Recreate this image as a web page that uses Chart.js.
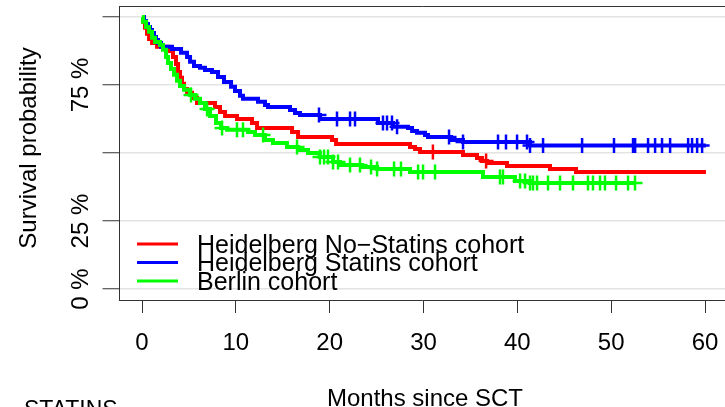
<!DOCTYPE html>
<html>
<head>
<meta charset="utf-8">
<title>Survival after SCT</title>
<script src="https://cdn.jsdelivr.net/npm/chart.js@4.4.0/dist/chart.umd.min.js"></script>
<style>
  html, body { margin: 0; padding: 0; background: #fff; overflow: hidden; }
  #wrap { width: 725px; height: 407px; }
</style>
</head>
<body>
<div id="wrap"><canvas id="km" width="725" height="407"></canvas></div>
<script>
// Kaplan-Meier curves: event times (months) and survival just after each event
const noStatinTimes = [0, 0.11, 0.32, 0.53, 0.75, 1.07, 1.6, 2.77, 3.3, 3.62, 3.84, 4.05, 4.26, 4.48, 4.8, 5.33, 5.86,
  7.78, 8.31, 8.85, 10.12, 11.72, 12.26, 15.99, 16.63, 20.25, 20.68, 28.56, 29.1, 29.63, 34.21, 35.7, 36.24,
  36.77, 38.9, 43.48, 46.25, 60.1];
const noStatinSurv = [1, 0.982, 0.96, 0.938, 0.919, 0.904, 0.89, 0.875, 0.853, 0.827, 0.798, 0.776, 0.754, 0.735, 0.721,
  0.702, 0.684, 0.669, 0.651, 0.636, 0.625, 0.61, 0.592, 0.577, 0.559, 0.548, 0.533, 0.522, 0.515, 0.504, 0.493,
  0.482, 0.471, 0.463, 0.452, 0.441, 0.43, 0.43];
const noStatinCensored = [31.0, 36.67];

const statinTimes = [0, 0.21, 0.43, 0.64, 0.85, 1.07, 1.28, 1.49, 1.71, 2.03, 3.2, 4.16, 4.8, 5.12, 5.54, 6.18, 6.71,
  7.46, 8.1, 8.74, 9.49, 9.91, 10.44, 10.76, 12.36, 13.11, 13.43, 15.77, 16.31, 16.84, 18.97, 25.15, 26.75,
  28.35, 28.78, 29.31, 30.16, 30.48, 32.93, 34.21, 41.35, 60.1];
const statinSurv = [1, 0.985, 0.974, 0.963, 0.952, 0.941, 0.926, 0.915, 0.904, 0.89, 0.882, 0.868, 0.853, 0.835, 0.82,
  0.813, 0.805, 0.798, 0.779, 0.761, 0.743, 0.728, 0.71, 0.699, 0.688, 0.676, 0.669, 0.658, 0.647, 0.64, 0.625,
  0.61, 0.596, 0.592, 0.581, 0.574, 0.566, 0.559, 0.548, 0.54, 0.528, 0.528];
const statinCensored = [18.86, 20.78, 22.17, 22.7, 25.68, 26.11, 26.64, 27.18, 32.72, 34.21, 37.94, 38.79, 39.97,
  41.03, 41.35, 42.74, 46.9, 50.3, 52.33, 52.55, 53.93, 54.68, 55.42, 56.28, 58.2, 58.62, 59.16, 59.69];

const berlinTimes = [0, 0.11, 0.43, 0.75, 1.07, 1.39, 1.92, 2.24, 2.56, 2.77, 3.09, 3.41, 3.73, 4.05, 4.48, 5.12, 5.65,
  6.18, 6.71, 7.25, 7.89, 8.42, 9.06, 11.3, 12.04, 13.11, 13.96, 15.45, 16.63, 17.69, 18.97, 20.36, 21.1, 23.45,
  25.05, 28.56, 36.34, 39.75, 41.35, 52.6];
const berlinSurv = [1, 0.982, 0.963, 0.945, 0.923, 0.908, 0.897, 0.879, 0.853, 0.831, 0.809, 0.787, 0.765, 0.746,
  0.732, 0.713, 0.699, 0.684, 0.662, 0.636, 0.61, 0.592, 0.585, 0.577, 0.566, 0.548, 0.537, 0.522, 0.511, 0.5,
  0.485, 0.467, 0.456, 0.449, 0.441, 0.43, 0.412, 0.397, 0.39, 0.39];
const berlinCensored = [5.22, 6.93, 8.53, 10.12, 10.76, 12.9, 16.52, 18.97, 19.4, 19.82, 20.36, 20.89, 22.17, 23.23,
  24.41, 25.05, 26.86, 27.6, 29.42, 29.95, 31.23, 38.15, 38.47, 40.29, 40.82, 41.35, 41.67, 42.1, 43.27, 44.55,
  45.93, 47.53, 48.06, 48.81, 49.34, 50.52, 51.8, 52.54];

const seriesNames = ['Heidelberg No\u2212Statins cohort', 'Heidelberg Statins cohort', 'Berlin cohort'];
const seriesColors = ['#ff0000', '#0000ff', '#00ff00'];

const xTicks = [0, 10, 20, 30, 40, 50, 60];
const yTicks = [0, 0.25, 0.5, 0.75, 1];
const yTickLabels = ['0 %', '25 %', '', '75 %', ''];

const FONT = '"Liberation Sans", Arial, Helvetica, sans-serif';

// survival value of a step curve at time t
const survAt = (times, surv, t) => {
  let s = 1;
  for (let i = 0; i < times.length; i++) if (times[i] <= t) s = surv[i];
  return s;
};

const curve = (times, surv) => times.map((t, i) => ({ x: t, y: surv[i] }));
const marks = (times, surv, cens) => cens.map(t => ({ x: t, y: survAt(times, surv, t) }));

const groups = [
  [noStatinTimes, noStatinSurv, noStatinCensored],
  [statinTimes, statinSurv, statinCensored],
  [berlinTimes, berlinSurv, berlinCensored]
];

const datasets = [];
groups.forEach(([times, surv, cens], i) => {
  datasets.push({
    label: seriesNames[i],
    data: curve(times, surv),
    borderColor: seriesColors[i],
    borderWidth: 4,
    stepped: 'before',
    pointRadius: 0,
    fill: false,
    order: 10 - 2 * i
  });
  datasets.push({
    label: seriesNames[i] + ' (censored)',
    data: marks(times, surv, cens),
    showLine: false,
    pointStyle: 'cross',
    pointRadius: 7.5,
    pointBorderWidth: 2.5,
    borderColor: seriesColors[i],
    backgroundColor: seriesColors[i],
    order: 9 - 2 * i
  });
});

// ── Frame, rotated labels, titles and legend ──────────────
const decorations = {
  id: 'decorations',
  afterDraw(chart) {
    const { ctx, chartArea: a, scales: { y } } = chart;
    ctx.save();

    ctx.strokeStyle = '#333';
    ctx.lineWidth = 1;
    ctx.beginPath();
    ctx.moveTo(a.left, a.top + 0.5);
    ctx.lineTo(a.right, a.top + 0.5);
    ctx.stroke();

    ctx.fillStyle = '#000';
    ctx.textAlign = 'center';
    ctx.textBaseline = 'middle';
    ctx.font = '24px ' + FONT;
    yTicks.forEach((v, i) => {
      if (!yTickLabels[i]) return;
      ctx.save();
      ctx.translate(81, y.getPixelForValue(v));
      ctx.rotate(-Math.PI / 2);
      ctx.fillText(yTickLabels[i], 0, 0);
      ctx.restore();
    });

    ctx.save();
    ctx.translate(29, 148);
    ctx.rotate(-Math.PI / 2);
    ctx.fillText('Survival probability', 0, 0);
    ctx.restore();

    ctx.textBaseline = 'alphabetic';
    ctx.fillText('Months since SCT', 425, 406);
    ctx.textAlign = 'left';
    ctx.font = '23px ' + FONT;
    ctx.fillText('STATINS', 24, 417);

    // legend
    ctx.font = '25px ' + FONT;
    seriesNames.forEach((name, i) => {
      const cy = 244 + i * 18.5;
      ctx.strokeStyle = seriesColors[i];
      ctx.lineWidth = 3;
      ctx.beginPath();
      ctx.moveTo(137, cy);
      ctx.lineTo(178, cy);
      ctx.stroke();
      ctx.fillStyle = '#000';
      ctx.fillText(name, 197, cy + 8.5);
    });

    ctx.restore();
  }
};

new Chart(document.getElementById('km'), {
  type: 'line',
  data: { datasets },
  options: {
    responsive: false,
    animation: false,
    layout: { autoPadding: false, padding: { top: 6, left: 0, right: 0, bottom: 0 } },
    plugins: { legend: { display: false }, tooltip: { enabled: false } },
    scales: {
      x: {
        type: 'linear',
        min: -2.4,
        max: 62.13,
        afterBuildTicks: s => { s.ticks = xTicks.map(v => ({ value: v })); },
        afterFit: s => { s.height = 107; s.paddingLeft = 0; s.paddingRight = 0; },
        grid: { drawOnChartArea: false, tickLength: 13, tickColor: '#333', tickWidth: 1 },
        border: { display: true, color: '#333', width: 1 },
        ticks: { color: '#000', font: { family: FONT, size: 24 }, padding: 15.5, maxRotation: 0 }
      },
      y: {
        min: -0.04,
        max: 1.04,
        afterBuildTicks: s => { s.ticks = yTicks.map(v => ({ value: v })); },
        afterFit: s => { s.width = 119.5; s.paddingTop = 0; s.paddingBottom = 0; },
        grid: { color: '#e3e3e3', lineWidth: 1.5, tickLength: 17, tickColor: '#333', tickWidth: 1 },
        border: { display: true, color: '#333', width: 1 },
        ticks: { display: false }
      }
    }
  },
  plugins: [decorations]
});
</script>
</body>
</html>
